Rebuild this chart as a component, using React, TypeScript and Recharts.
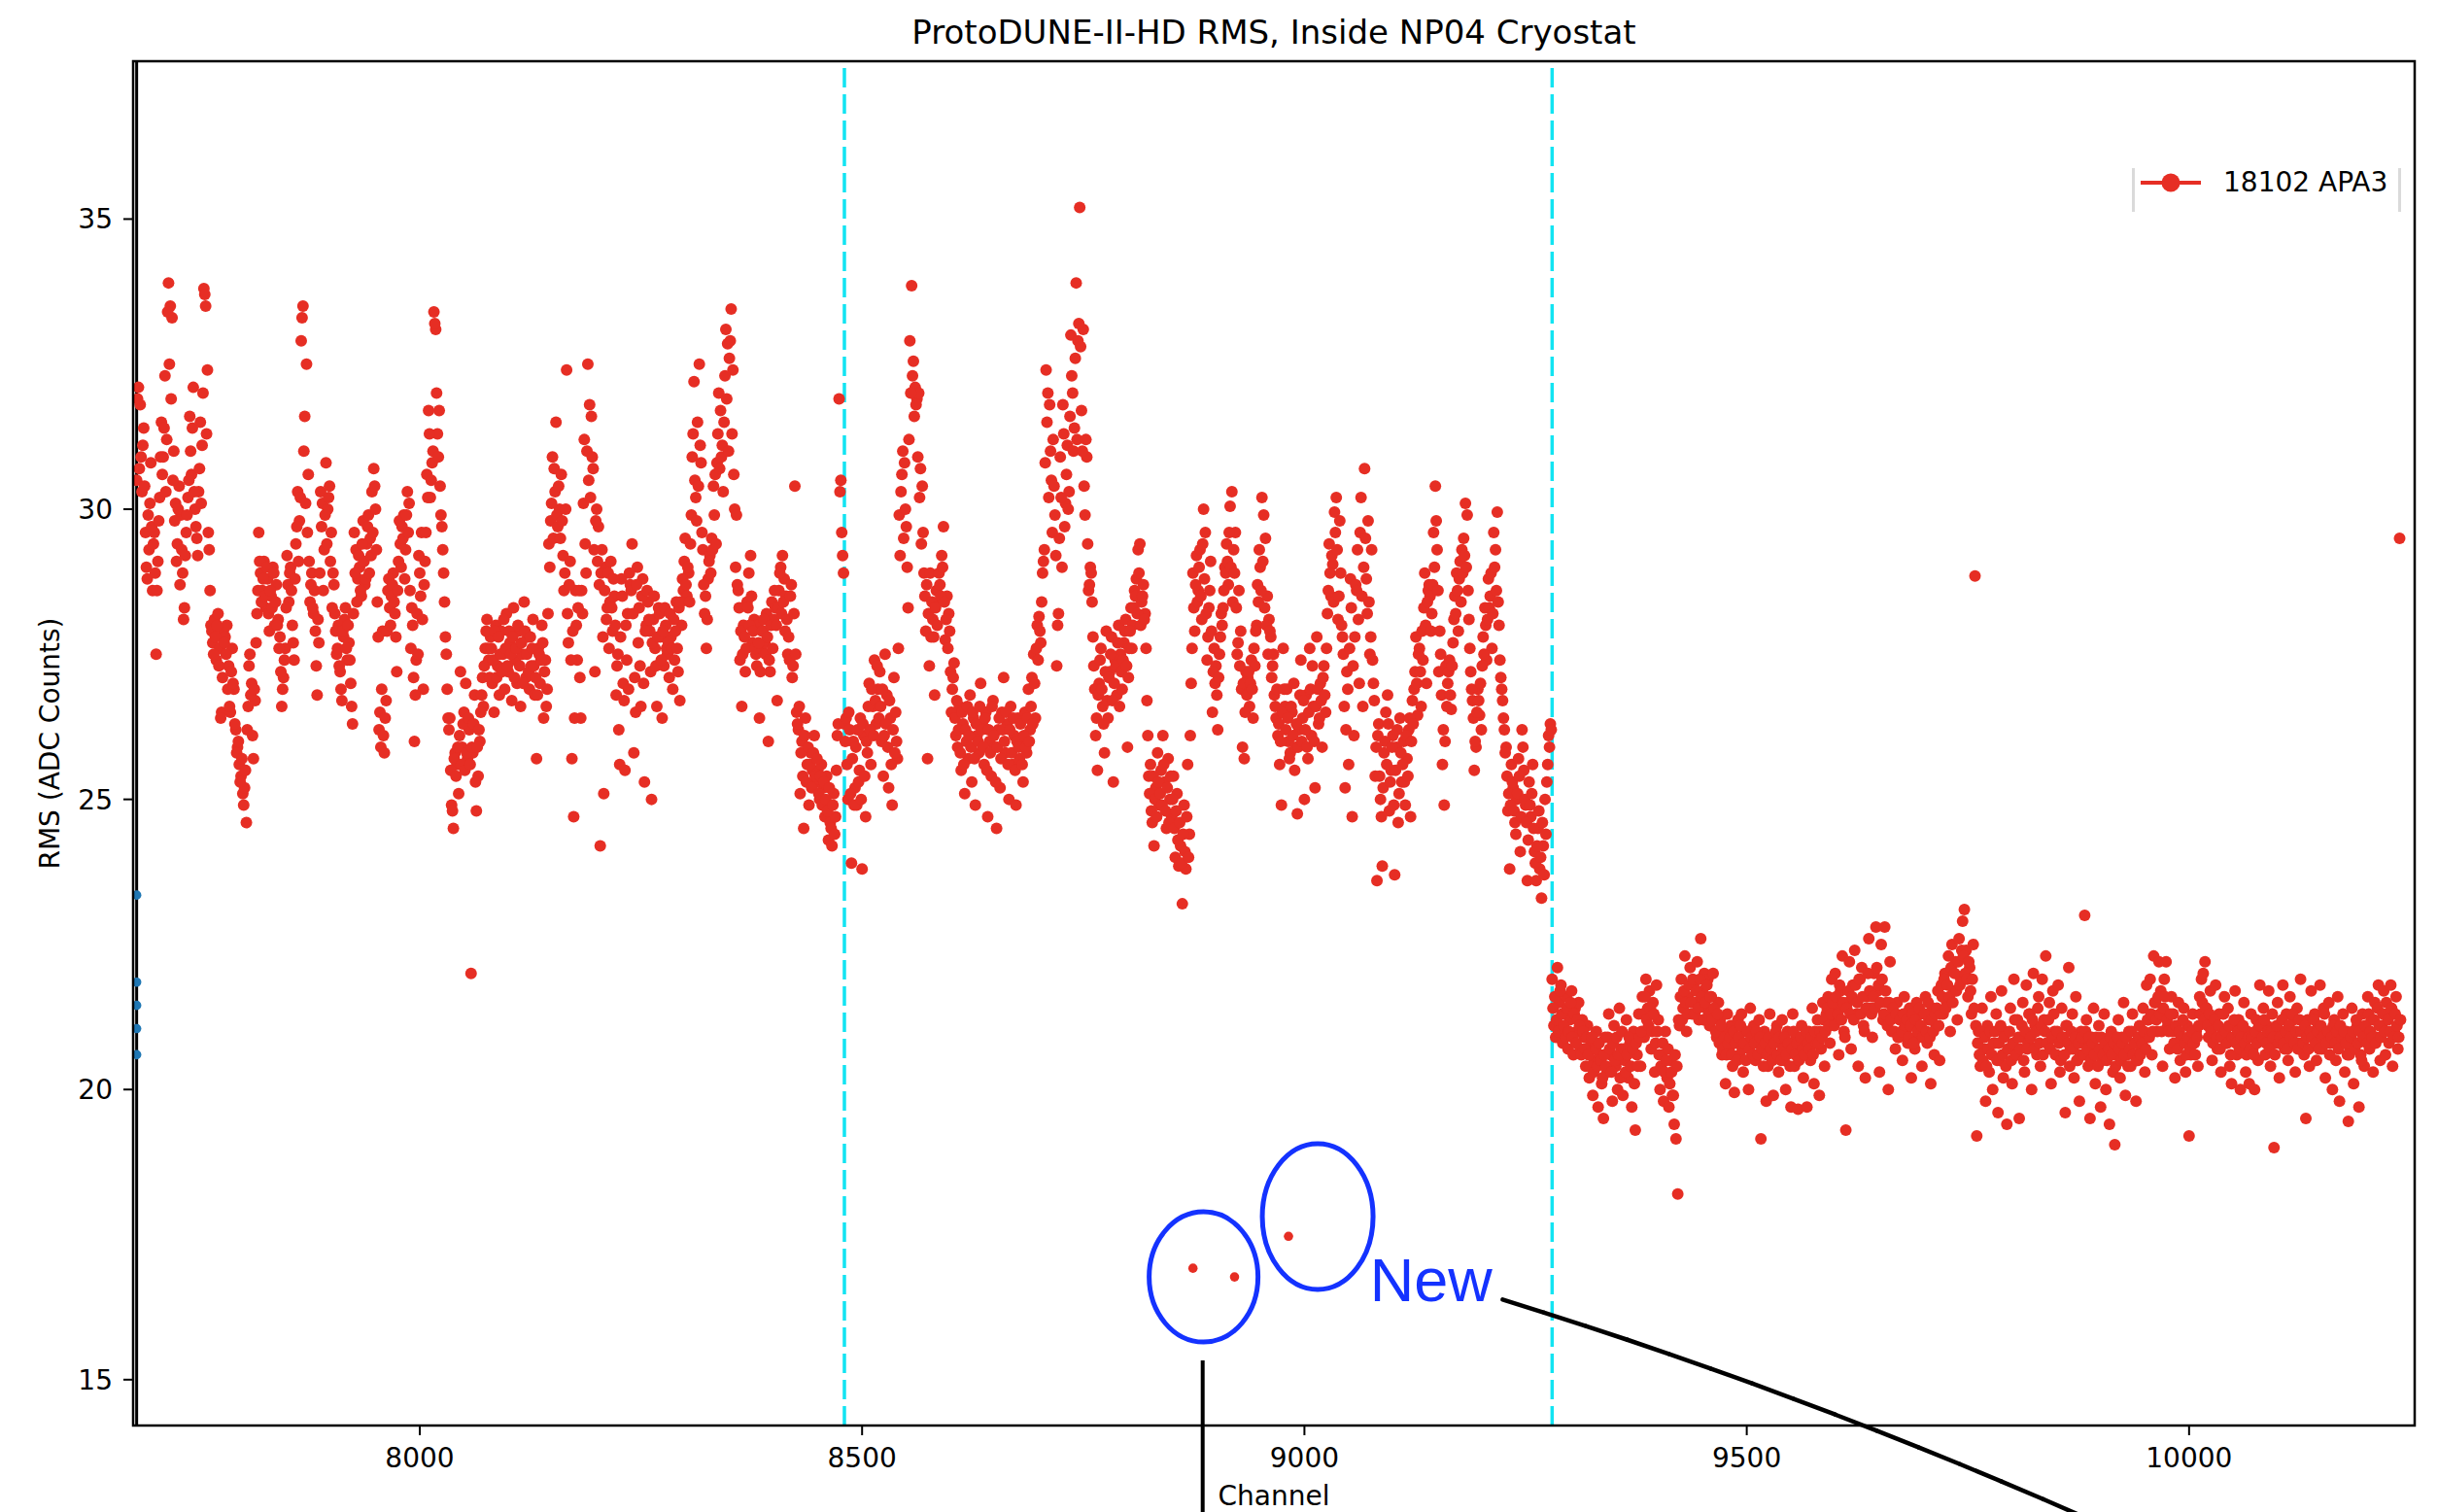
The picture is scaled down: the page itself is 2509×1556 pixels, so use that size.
import React from 'react';
import { ScatterChart, Scatter, XAxis, YAxis, ReferenceLine, ReferenceDot, Legend } from 'recharts';

// RMS per channel. Each row covers 100 channels; "even" rows hold the even
// channels (start, start+2, ...), "odd" rows the channels in between.
const U_START = 7680;
const V_START = 8480;
const X_START = 9280;

const uPlaneEven: number[][] = [
  [30.5, 32.1, 31.8, 30.3, 31.4, 29.6, 28.8, 29.3, 30.8, 28.6,
   29.6, 27.5, 29.1, 30.2, 31.5, 30.9, 32.3, 31.2, 33.9, 33.5,
   33.3, 31.0, 30.1, 29.4, 30.4, 29.9, 28.9, 28.3, 29.6, 30.2,
   31.6, 30.6, 32.1, 30.0, 29.5, 30.3, 31.5, 31.1, 33.8, 33.5,
   32.4, 29.3, 28.0, 27.7, 28.1, 27.4, 28.2, 27.6, 26.5, 27.9],
  [27.8, 28.0, 27.3, 26.5, 27.6, 26.9, 26.2, 25.9, 25.6, 25.4,
   25.1, 25.2, 24.6, 26.6, 27.5, 27.0, 25.7, 26.7, 28.2, 29.6,
   28.9, 28.6, 29.1, 28.3, 28.8, 27.9, 28.5, 29.0, 28.0, 28.7,
   28.1, 27.8, 26.6, 27.1, 27.6, 29.2, 28.4, 29.0, 28.0, 27.4,
   29.4, 30.3, 29.8, 32.9, 33.5, 31.6, 32.5, 30.6, 28.4, 28.9],
  [28.2, 27.9, 26.8, 27.7, 30.3, 30.1, 29.3, 30.8, 30.0, 30.4,
   29.6, 28.9, 28.2, 27.5, 28.0, 27.2, 26.7, 27.8, 28.3, 27.4,
   27.7, 27.0, 26.3, 29.6, 29.3, 28.8, 29.0, 28.5, 29.8, 28.7,
   29.4, 29.9, 29.5, 30.3, 30.7, 30.0, 28.4, 26.2, 25.9, 27.9,
   25.8, 26.7, 28.6, 28.3, 28.5, 28.9, 28.2, 27.2, 29.1, 29.4],
  [29.7, 29.9, 29.3, 30.3, 30.1, 27.6, 28.0, 26.0, 27.4, 27.5,
   28.9, 29.6, 26.9, 29.1, 30.6, 31.7, 30.2, 30.8, 33.4, 33.1,
   31.3, 31.7, 29.9, 29.3, 28.4, 27.5, 26.4, 26.4, 24.9, 24.5,
   25.8, 25.6, 25.1, 27.2, 25.9, 26.5, 27.0, 25.7, 26.2, 22.0,
   25.8, 26.8, 24.8, 25.4, 26.0, 26.8, 26.6, 27.6, 28.1, 27.4],
  [27.8, 27.0, 26.5, 28.0, 27.3, 26.8, 27.9, 27.5, 26.9, 28.2,
   27.2, 27.7, 26.7, 28.3, 27.4, 27.0, 27.9, 26.6, 27.5, 28.4,
   27.1, 27.8, 26.9, 27.3, 28.1, 26.8, 25.7, 27.6, 27.0, 28.0,
   26.4, 27.4, 26.9, 29.4, 29.8, 30.9, 30.7, 31.5, 29.7, 30.0,
   30.6, 29.2, 28.9, 32.4, 27.7, 29.1, 25.7, 24.7, 28.6, 27.4],
  [28.6, 26.4, 28.2, 31.2, 28.9, 32.5, 31.8, 31.6, 30.7, 27.2,
   30.0, 29.7, 24.2, 29.3, 25.1, 29.0, 28.3, 27.6, 29.1, 27.9,
   28.5, 26.8, 27.5, 25.6, 28.8, 27.0, 25.5, 27.4, 26.9, 28.7,
   29.4, 25.8, 26.5, 29.0, 28.3, 26.6, 28.8, 25.3, 28.0, 28.4,
   27.9, 25.0, 28.1, 27.6, 26.6, 28.3, 27.8, 26.4, 27.3, 28.0],
  [27.5, 27.1, 27.8, 26.9, 27.4, 28.4, 27.2, 26.7, 28.0, 28.6,
   29.5, 28.5, 28.9, 29.4, 30.9, 32.2, 30.2, 31.5, 32.5, 30.8,
   29.3, 28.2, 27.6, 28.8, 29.2, 29.5, 30.4, 30.6, 30.8, 32.0,
   31.7, 31.1, 31.5, 33.1, 32.85, 32.6, 33.45, 32.4, 30.0, 29.9,
   28.6, 27.4, 26.6, 28.0, 27.2, 28.4, 28.9, 29.2, 27.7, 28.1],
  [27.5, 28.0, 26.4, 27.6, 27.9, 27.7, 28.2, 26.0, 27.2, 28.4,
   28.1, 28.3, 26.7, 28.6, 29.0, 29.2, 28.8, 28.5, 27.5, 27.4,
   28.7, 27.3, 30.4, 26.5, 26.2, 25.1, 26.0, 24.5, 26.4, 25.6,
   24.9, 25.8, 25.5, 26.1, 25.3, 25.5, 25.0, 25.6, 25.2, 24.7,
   25.4, 24.3, 24.6, 24.2, 25.1, 24.7, 26.1, 31.9, 30.5, 29.2],
];

const uPlaneOdd: number[][] = [
  [31.9, 30.7, 30.9, 31.1, 30.4, 29.0, 29.9, 30.1, 29.7, 29.4,
   28.9, 28.6, 29.8, 30.9, 30.6, 31.4, 30.3, 33.4, 32.5, 31.9,
   30.5, 29.8, 29.1, 30.0, 28.7, 29.3, 28.1, 29.2, 29.9, 30.5,
   31.0, 31.4, 30.3, 29.7, 29.2, 30.7, 30.1, 32.0, 33.7, 31.3,
   29.6, 28.6, 27.9, 27.5, 27.8, 28.0, 27.3, 26.4, 27.1, 27.7],
  [27.5, 26.9, 26.6, 27.2, 27.0, 26.3, 25.8, 26.0, 25.3, 25.7,
   24.9, 25.5, 26.2, 27.3, 26.8, 26.1, 26.9, 27.7, 28.6, 29.1,
   28.4, 28.8, 28.5, 29.0, 28.2, 28.6, 28.3, 28.9, 28.4, 28.0,
   27.6, 27.2, 26.9, 27.4, 28.3, 28.7, 28.9, 28.6, 27.7, 28.8,
   29.7, 29.1, 30.2, 33.3, 31.0, 30.1, 29.6, 29.1, 28.7, 28.3],
  [28.6, 27.3, 28.1, 28.9, 29.7, 28.6, 29.9, 29.4, 30.2, 29.1,
   28.3, 28.7, 27.9, 27.6, 27.3, 26.9, 27.9, 28.1, 27.6, 28.0,
   27.4, 26.6, 28.2, 28.9, 28.4, 29.2, 28.6, 29.4, 29.1, 28.8,
   29.7, 28.9, 29.2, 29.6, 30.4, 29.3, 27.8, 26.5, 26.9, 26.1,
   26.4, 27.9, 28.8, 28.0, 28.7, 28.4, 27.8, 28.6, 29.8, 29.0],
  [29.5, 28.8, 29.9, 29.6, 28.6, 28.3, 27.1, 26.8, 28.2, 29.2,
   28.5, 28.1, 28.7, 29.6, 30.2, 31.3, 30.5, 31.0, 33.2, 32.0,
   30.9, 30.4, 29.7, 28.9, 27.8, 26.9, 26.2, 25.5, 24.8, 25.7,
   25.4, 25.9, 26.1, 25.6, 26.3, 25.5, 25.8, 26.4, 25.6, 25.9,
   26.3, 25.3, 25.9, 26.2, 26.5, 27.1, 27.3, 27.9, 27.6, 27.1],
  [27.6, 27.4, 27.9, 27.1, 27.8, 27.5, 27.2, 28.1, 27.6, 27.3,
   27.9, 27.5, 27.8, 27.1, 27.6, 28.0, 27.3, 27.7, 27.0, 27.9,
   27.5, 27.2, 27.8, 27.6, 27.3, 27.1, 26.8, 27.5, 27.4, 27.7,
   27.2, 26.6, 28.2, 29.0, 30.1, 29.5, 30.3, 29.9, 30.4, 29.5,
   29.8, 28.6, 30.0, 28.2, 28.7, 27.4, 27.9, 26.4, 28.0, 28.3],
  [27.1, 28.6, 30.1, 29.4, 31.0, 30.5, 30.2, 30.9, 29.3, 29.8,
   29.1, 28.7, 28.9, 27.8, 28.6, 28.1, 28.9, 28.4, 28.3, 28.8,
   28.0, 27.3, 26.2, 27.8, 28.5, 26.7, 28.0, 28.2, 28.9, 28.6,
   28.2, 27.1, 28.7, 27.7, 27.3, 28.5, 27.0, 27.9, 28.6, 28.1,
   27.2, 27.7, 28.5, 27.3, 27.8, 28.2, 27.4, 27.9, 28.3, 27.6],
  [27.7, 28.2, 27.6, 28.1, 27.9, 27.6, 28.3, 28.4, 28.8, 29.1,
   28.7, 29.0, 28.4, 29.9, 31.3, 30.5, 29.8, 30.4, 31.1, 29.6,
   28.7, 28.5, 28.1, 29.1, 28.9, 29.3, 29.9, 29.4, 31.3, 30.7,
   30.9, 30.3, 32.3, 31.9, 31.0, 32.9, 31.3, 30.6, 29.0, 28.7,
   28.3, 27.9, 27.5, 27.8, 27.6, 28.3, 28.0, 28.5, 27.9, 27.6],
  [27.3, 27.7, 27.2, 27.9, 28.1, 27.5, 27.8, 27.4, 28.0, 27.6,
   28.6, 28.0, 28.3, 28.9, 28.2, 28.4, 27.9, 28.1, 27.8, 28.5,
   27.1, 28.2, 27.5, 26.3, 26.6, 25.8, 25.4, 26.1, 25.3, 25.9,
   25.6, 25.2, 25.8, 25.4, 25.7, 25.1, 25.4, 24.9, 25.3, 25.0,
   24.8, 25.2, 24.5, 24.9, 24.4, 25.5, 26.3, 30.3, 29.6, 28.9],
];

const vPlaneEven: number[][] = [
  [26.3, 26.4, 25.0, 26.2, 23.9, 26.0, 25.2, 24.9, 25.3, 26.4,
   23.8, 26.1, 24.7, 25.8, 27.0, 25.6, 26.6, 27.4, 26.3, 26.9,
   27.2, 26.0, 25.4, 27.5, 26.8, 25.2, 26.4, 24.9, 27.1, 26.5,
   25.7, 29.9, 30.3, 31.0, 30.8, 29.7, 28.3, 32.9, 33.85, 32.55,
   32.1, 31.9, 32.0, 30.7, 30.4, 28.9, 27.9, 25.7, 27.3, 27.8],
  [28.1, 26.8, 28.6, 28.4, 28.7, 29.2, 29.7, 27.75, 28.5, 28.2,
   27.2, 26.9, 27.35, 26.1, 25.9, 26.6, 25.5, 26.3, 25.1, 26.0,
   25.7, 26.8, 25.3, 26.4, 24.9, 26.1, 25.8, 27.0, 26.3, 25.6,
   26.5, 24.7, 26.0, 25.4, 26.7, 25.9, 24.5, 26.2, 25.2, 26.5,
   27.1, 25.8, 26.3, 25.0, 26.6, 25.6, 26.1, 24.9, 26.4, 25.7],
  [26.0, 25.3, 26.5, 25.8, 26.9, 26.2, 27.1, 27.5, 26.4, 28.0,
   28.15, 27.7, 28.9, 29.3, 32.4, 32.0, 31.8, 30.5, 31.2, 29.9,
   27.3, 28.2, 30.9, 29.0, 31.3, 30.1, 31.1, 30.3, 33.0, 32.0,
   31.4, 33.9, 32.9, 35.2, 31.7, 33.1, 29.9, 30.9, 28.6, 29.0,
   28.4, 27.3, 26.1, 25.5, 27.0, 27.6, 26.6, 25.8, 27.9, 26.4],
  [27.2, 27.8, 25.3, 27.4, 26.8, 28.0, 27.5, 26.9, 27.7, 28.1,
   25.9, 27.6, 28.3, 28.0, 28.6, 28.8, 29.3, 29.4, 28.4, 28.7,
   28.2, 26.7, 25.4, 25.6, 24.6, 24.2, 25.2, 25.8, 24.9, 25.5,
   26.1, 25.3, 24.5, 25.7, 25.0, 24.7, 25.4, 24.0, 25.1, 23.85,
   24.2, 23.2, 24.9, 23.8, 25.6, 24.4, 27.0, 28.9, 27.9, 29.2],
  [28.6, 29.3, 28.1, 30.0, 29.6, 27.4, 28.3, 29.1, 26.5, 27.6,
   27.3, 26.2, 27.5, 28.2, 28.3, 29.0, 29.4, 28.7, 30.05, 30.3,
   29.3, 29.6, 27.5, 28.6, 27.9, 25.9, 25.7, 27.2, 27.1, 26.6,
   27.4, 26.4, 27.3, 28.0, 28.4, 29.0, 30.2, 29.9, 29.5, 28.5,
   28.1, 27.8, 27.3, 26.8, 26.4, 26.1, 25.6, 24.9, 27.6, 26.6],
  [26.9, 26.0, 25.8, 26.5, 27.0, 25.9, 24.75, 26.2, 27.4, 26.4,
   25.0, 26.8, 25.7, 27.6, 26.1, 26.6, 25.2, 27.8, 26.3, 27.0,
   25.9, 27.3, 26.5, 28.2, 29.4, 28.5, 29.05, 29.95, 30.2, 28.1,
   29.8, 28.0, 27.5, 25.2, 27.2, 25.6, 28.8, 24.7, 26.1, 28.7,
   29.3, 27.0, 30.2, 26.6, 30.7, 28.8, 29.8, 27.5, 29.3, 27.0],
  [25.4, 23.6, 26.3, 25.0, 23.85, 25.8, 26.5, 26.8, 24.8, 25.5,
   26.1, 23.7, 25.9, 24.6, 26.4, 25.3, 26.0, 24.9, 25.7, 26.2,
   24.7, 26.7, 26.9, 27.8, 26.45, 27.6, 26.6, 27.4, 28.9, 27.0,
   28.6, 28.5, 28.2, 29.6, 30.4, 29.3, 27.2, 27.5, 25.6, 24.9,
   27.3, 27.0, 27.4, 26.55, 27.7, 28.5, 28.9, 27.9, 29.1, 29.3],
  [29.5, 30.1, 29.9, 28.1, 27.2, 26.7, 25.5, 25.9, 26.9, 26.45,
   26.2, 27.8, 28.3, 27.4, 28.8, 28.5, 27.6, 29.6, 29.3, 29.95,
   28.0, 27.1, 26.7, 26.2, 25.9, 24.8, 23.8, 25.6, 25.2, 24.6,
   25.0, 25.7, 24.1, 26.2, 25.5, 24.9, 23.6, 25.3, 24.7, 25.6,
   24.1, 23.6, 24.5, 23.8, 23.3, 24.2, 25.0, 25.3, 26.1, 26.3],
];

const vPlaneOdd: number[][] = [
  [26.0, 25.6, 26.5, 25.1, 25.7, 24.9, 25.9, 26.2, 25.5, 25.0,
   26.3, 25.4, 26.0, 26.6, 26.2, 26.9, 26.1, 26.7, 27.3, 26.4,
   26.6, 26.9, 26.1, 26.3, 25.9, 26.7, 25.6, 26.2, 25.8, 26.0,
   27.6, 29.2, 30.6, 29.5, 30.0, 29.0, 31.2, 32.0, 32.3, 31.6,
   31.8, 30.9, 30.2, 29.4, 29.6, 28.5, 28.7, 28.2, 28.9, 28.4],
  [27.8, 28.3, 28.0, 28.9, 28.5, 29.0, 28.4, 28.1, 27.6, 27.9,
   26.5, 27.1, 26.4, 26.7, 26.2, 25.8, 26.5, 25.6, 26.2, 26.6,
   26.1, 25.9, 26.5, 25.7, 26.3, 26.0, 26.6, 26.2, 25.9, 26.4,
   25.5, 26.2, 25.8, 26.6, 26.1, 25.3, 25.9, 26.4, 25.7, 26.2,
   26.0, 26.5, 25.6, 26.2, 25.8, 26.4, 25.5, 26.0, 25.9, 26.3],
  [25.6, 26.1, 25.9, 26.4, 26.0, 26.6, 26.3, 27.0, 27.6, 27.4,
   27.9, 28.4, 29.1, 30.8, 31.5, 30.2, 31.0, 29.6, 30.4, 29.2,
   28.0, 29.5, 30.2, 31.8, 29.7, 30.6, 30.0, 31.6, 32.3, 31.0,
   32.6, 31.2, 33.2, 32.8, 31.0, 30.4, 31.2, 29.4, 28.7, 28.9,
   27.8, 26.9, 26.4, 26.8, 27.4, 26.9, 26.3, 27.2, 26.7, 27.1],
  [27.5, 26.7, 27.0, 27.3, 27.7, 26.6, 27.2, 27.4, 27.9, 27.3,
   27.1, 27.9, 27.6, 28.3, 28.5, 28.2, 28.9, 28.0, 28.5, 28.1,
   27.6, 26.1, 25.1, 24.8, 25.4, 25.0, 24.7, 25.3, 25.1, 24.9,
   25.6, 24.8, 25.2, 24.6, 25.4, 25.0, 24.5, 24.8, 24.3, 24.6,
   23.9, 24.4, 24.1, 24.7, 24.0, 26.1, 27.6, 28.3, 28.7, 28.4],
  [29.0, 28.5, 29.4, 28.8, 28.2, 27.8, 28.6, 27.9, 27.2, 27.0,
   26.8, 27.1, 27.8, 28.0, 28.6, 28.9, 29.1, 29.6, 29.0, 28.4,
   28.9, 28.3, 27.7, 27.3, 26.9, 27.0, 26.5, 26.8, 27.2, 27.0,
   26.9, 27.6, 27.9, 28.7, 29.3, 28.6, 29.1, 28.3, 28.0, 27.5,
   27.9, 27.1, 27.5, 26.6, 26.9, 26.3, 26.0, 26.5, 26.9, 26.2],
  [26.4, 25.7, 26.6, 26.1, 25.5, 26.3, 25.9, 26.8, 26.0, 26.7,
   26.2, 25.9, 26.5, 26.9, 27.3, 26.0, 26.6, 26.9, 26.4, 26.7,
   27.1, 26.8, 27.6, 28.6, 28.9, 29.2, 28.4, 29.6, 29.3, 28.5,
   28.9, 27.8, 26.6, 26.2, 26.9, 27.6, 28.3, 27.3, 27.8, 28.6,
   28.1, 29.6, 28.5, 29.0, 29.5, 28.2, 28.4, 27.8, 27.4, 26.7],
  [25.9, 26.1, 25.4, 24.7, 25.2, 26.0, 25.6, 26.3, 25.3, 25.9,
   24.9, 25.5, 26.2, 25.1, 25.8, 25.6, 25.3, 26.1, 25.4, 26.4,
   26.0, 26.3, 27.2, 27.0, 27.5, 27.2, 27.9, 28.3, 28.0, 28.4,
   28.7, 27.9, 28.7, 29.0, 29.8, 28.6, 27.9, 26.8, 26.2, 26.0,
   26.6, 27.2, 26.8, 27.3, 28.1, 28.2, 28.6, 28.8, 28.4, 28.9],
  [29.2, 29.0, 28.6, 27.6, 26.9, 26.4, 26.0, 26.5, 26.7, 27.0,
   27.3, 27.5, 28.0, 28.1, 28.3, 28.9, 28.2, 29.0, 28.6, 28.4,
   27.4, 26.9, 26.4, 25.8, 25.4, 25.1, 24.9, 25.3, 24.8, 24.4,
   25.1, 25.4, 24.7, 25.9, 25.0, 24.6, 24.3, 24.9, 25.1, 24.5,
   23.9, 24.2, 24.8, 24.0, 24.6, 23.7, 24.4, 25.6, 25.9, 26.2],
];

const xPlaneEven: number[][] = [
  [21.9, 21.1, 20.9, 22.1, 21.5, 21.8, 20.8, 21.3, 21.6, 20.7,
   21.2, 21.7, 20.6, 21.4, 21.0, 21.5, 20.7, 21.2, 20.9, 20.4,
   21.1, 20.2, 20.8, 19.9, 20.5, 21.0, 19.7, 20.6, 20.1, 19.5,
   20.9, 20.3, 21.3, 20.6, 19.8, 21.1, 20.4, 20.0, 21.4, 20.7,
   19.9, 20.5, 21.2, 20.2, 20.8, 19.7, 21.0, 19.3, 20.6, 21.3],
  [20.4, 21.6, 20.9, 21.9, 21.4, 21.7, 20.7, 21.5, 20.3, 21.8,
   21.2, 20.0, 20.6, 19.8, 21.0, 20.2, 19.7, 20.5, 19.9, 19.4,
   19.15, 18.2, 21.1, 21.9, 21.4, 22.3, 21.0, 21.6, 22.1, 21.3,
   21.8, 21.5, 22.2, 21.2, 22.6, 21.7, 22.0, 21.4, 21.9, 21.1,
   21.6, 22.0, 21.3, 20.9, 21.5, 21.2, 20.6, 21.0, 20.1, 21.3],
  [20.7, 21.1, 20.4, 19.95, 20.9, 21.2, 20.6, 21.3, 20.3, 21.0,
   20.8, 20.0, 21.4, 20.6, 21.1, 20.5, 20.9, 21.2, 19.15, 20.7,
   21.0, 19.8, 20.4, 21.3, 20.6, 19.9, 20.9, 21.1, 20.3, 20.8,
   21.2, 20.5, 20.0, 21.0, 20.7, 19.7, 21.3, 20.4, 20.9, 19.66,
   20.6, 21.1, 20.2, 20.8, 19.7, 21.0, 20.5, 21.4, 20.1, 20.9],
  [21.2, 19.9, 20.7, 21.5, 20.4, 21.3, 21.6, 20.8, 21.9, 21.2,
   22.0, 21.4, 20.6, 21.7, 22.3, 21.0, 19.3, 21.5, 22.2, 20.7,
   21.8, 22.4, 21.3, 20.4, 21.9, 22.1, 21.1, 20.2, 21.6, 22.6,
   21.4, 20.9, 22.0, 22.8, 21.7, 20.3, 22.5, 21.2, 22.8, 21.5,
   20.0, 22.2, 21.0, 21.3, 20.7, 21.5, 20.9, 21.2, 20.5, 21.6],
  [21.0, 20.8, 21.4, 20.2, 21.1, 20.7, 21.5, 20.9, 21.3, 20.4,
   21.0, 21.6, 20.8, 21.2, 20.1, 21.4, 20.6, 21.1, 21.7, 20.5,
   21.8, 21.3, 22.0, 21.5, 22.3, 21.0, 22.5, 21.7, 22.2, 21.2,
   22.6, 21.9, 22.9, 23.1, 22.4, 21.6, 22.1, 21.3, 22.5, 28.85,
   19.2, 21.0, 20.4, 21.4, 20.7, 19.8, 21.1, 20.3, 21.6, 20.0],
  [20.8, 21.3, 19.6, 20.5, 21.7, 20.2, 21.0, 19.4, 20.7, 21.4,
   20.1, 21.9, 20.6, 21.2, 19.5, 20.9, 21.5, 20.3, 21.8, 20.8,
   21.3, 20.0, 22.0, 21.1, 20.6, 21.6, 20.4, 21.9, 21.2, 22.3,
   20.8, 21.5, 20.1, 21.7, 21.0, 20.6, 21.8, 20.3, 21.4, 20.9,
   19.6, 21.1, 22.1, 20.7, 21.3, 20.2, 21.6, 20.5, 19.8, 21.0],
  [20.8, 23.0, 21.2, 20.4, 19.5, 20.9, 21.4, 20.1, 20.7, 21.1,
   19.7, 20.5, 21.3, 20.0, 20.8, 19.4, 21.0, 20.3, 19.05, 20.6,
   21.2, 20.2, 20.9, 21.5, 19.9, 20.6, 21.0, 20.4, 21.3, 20.8,
   19.8, 20.5, 21.1, 20.7, 21.4, 20.3, 21.8, 21.2, 21.9, 20.6,
   22.3, 21.5, 21.0, 22.2, 21.7, 20.4, 21.9, 22.2, 21.1, 20.7],
  [21.6, 21.3, 20.2, 21.0, 21.5, 20.5, 20.9, 21.4, 20.3, 21.1,
   19.2, 20.6, 21.3, 20.8, 21.0, 20.4, 21.6, 21.9, 22.0, 22.2,
   21.4, 20.9, 21.7, 20.5, 21.2, 21.8, 20.7, 21.3, 20.3, 21.0,
   21.6, 20.8, 21.4, 20.4, 20.1, 21.1, 21.7, 20.6, 21.2, 20.0,
   20.9, 21.5, 20.3, 21.0, 20.1, 21.3, 20.7, 20.0, 21.2, 20.5],
  [21.8, 20.9, 21.4, 20.6, 21.1, 21.7, 20.4, 21.3, 19.0, 20.8,
   21.5, 20.2, 21.0, 21.8, 20.7, 21.3, 20.5, 21.6, 20.9, 21.2,
   20.3, 21.4, 20.8, 21.9, 21.0, 20.6, 19.5, 21.2, 20.4, 21.7,
   20.9, 21.3, 20.5, 21.1, 21.8, 20.7, 21.4, 20.2, 21.0, 21.5,
   20.8, 20.0, 21.2, 20.5, 21.6, 19.8, 20.9, 21.3, 20.3, 21.0],
  [19.45, 20.7, 21.4, 20.1, 20.8, 21.1, 19.7, 20.6, 21.3, 20.4,
   21.0, 21.6, 20.7, 21.2, 20.3, 21.5, 20.9, 21.8, 20.5, 21.1,
   21.7, 20.6, 21.3, 20.8, 21.8, 20.4, 21.0, 21.6, 20.7, 29.5],
];

const xPlaneOdd: number[][] = [
  [21.4, 21.6, 21.2, 21.0, 21.7, 21.3, 21.1, 20.9, 21.4, 21.0,
   21.5, 20.9, 21.3, 20.8, 21.2, 21.1, 20.6, 21.0, 20.7, 20.9,
   20.6, 20.4, 20.9, 20.3, 20.7, 20.4, 20.8, 20.5, 20.2, 20.6,
   20.4, 20.9, 20.7, 20.3, 20.8, 20.5, 20.9, 20.6, 20.2, 21.0,
   20.7, 20.3, 20.6, 20.9, 20.4, 20.7, 20.1, 20.8, 20.4, 20.9],
  [21.0, 21.3, 21.6, 21.2, 21.1, 21.4, 21.0, 21.3, 20.8, 21.0,
   20.6, 20.4, 20.8, 20.3, 20.5, 20.7, 20.1, 20.3, 19.9, 20.6,
   20.4, 21.2, 21.6, 21.2, 21.7, 21.5, 21.3, 21.8, 21.5, 21.9,
   21.3, 21.7, 21.4, 21.9, 21.6, 21.2, 21.5, 21.8, 21.3, 21.6,
   21.2, 21.4, 21.0, 21.3, 20.8, 21.1, 20.7, 20.9, 20.6, 20.8],
  [20.9, 20.6, 21.0, 20.8, 20.5, 20.9, 21.1, 20.7, 20.8, 20.5,
   21.0, 20.7, 20.9, 20.6, 20.8, 21.0, 20.6, 20.9, 20.7, 20.4,
   20.8, 20.6, 20.9, 20.7, 20.5, 20.8, 21.0, 20.6, 20.9, 20.5,
   20.7, 20.9, 20.6, 20.8, 20.4, 20.7, 21.0, 20.6, 20.8, 20.5,
   20.9, 20.7, 20.6, 21.0, 20.8, 20.7, 20.9, 20.6, 21.0, 20.8],
  [20.8, 21.0, 20.9, 21.2, 21.0, 21.4, 21.1, 21.3, 21.5, 21.1,
   21.6, 21.3, 21.8, 21.2, 21.5, 20.9, 21.4, 21.7, 21.3, 21.6,
   21.2, 21.8, 21.5, 21.9, 21.3, 21.6, 21.0, 21.4, 22.0, 21.7,
   21.3, 21.6, 21.4, 22.1, 21.8, 21.5, 21.9, 21.3, 21.7, 21.1,
   21.5, 21.2, 21.4, 21.0, 21.3, 20.9, 21.2, 21.0, 21.3, 21.1],
  [21.2, 20.9, 21.1, 21.3, 20.8, 21.2, 21.0, 21.4, 21.1, 20.9,
   21.3, 21.0, 21.5, 20.9, 21.2, 21.0, 21.3, 21.4, 21.1, 21.3,
   21.6, 21.9, 21.4, 21.8, 21.6, 22.1, 21.5, 22.0, 21.7, 22.2,
   21.8, 22.4, 22.3, 22.0, 21.9, 22.2, 21.7, 21.9, 21.4, 21.1,
   20.8, 20.6, 21.0, 20.5, 20.9, 20.4, 20.7, 21.0, 20.6, 20.8],
  [21.0, 20.5, 20.8, 21.1, 20.6, 20.9, 20.4, 20.7, 21.0, 20.5,
   20.8, 21.2, 20.6, 20.9, 20.7, 21.1, 20.5, 21.0, 20.7, 21.3,
   20.9, 21.2, 20.7, 21.0, 21.4, 20.8, 21.1, 20.6, 21.0, 20.8,
   21.2, 20.7, 20.9, 21.3, 20.6, 21.0, 20.8, 20.5, 20.9, 20.6,
   21.1, 20.8, 20.4, 21.0, 20.7, 20.9, 20.5, 20.8, 20.6, 20.9],
  [20.6, 21.0, 20.7, 20.9, 20.5, 20.8, 20.6, 20.9, 20.4, 20.7,
   20.9, 20.6, 20.8, 20.5, 20.7, 20.9, 20.6, 20.8, 20.4, 20.9,
   20.7, 20.5, 20.8, 20.6, 20.9, 20.4, 20.7, 21.0, 20.6, 20.8,
   20.5, 20.9, 20.6, 20.8, 21.0, 20.7, 21.2, 20.9, 21.3, 21.0,
   21.5, 21.2, 21.6, 21.3, 21.0, 21.4, 21.6, 21.2, 21.0, 21.3],
  [21.0, 20.8, 21.1, 20.7, 21.0, 20.9, 21.2, 20.8, 20.6, 20.9,
   20.7, 21.0, 20.8, 20.6, 20.9, 21.1, 21.3, 21.5, 21.2, 21.4,
   21.1, 21.3, 21.0, 20.8, 21.2, 20.9, 21.1, 20.7, 20.9, 21.3,
   21.0, 20.8, 21.1, 20.6, 20.9, 21.2, 20.8, 21.0, 20.7, 20.9,
   21.1, 20.8, 20.6, 20.9, 20.7, 20.9, 20.6, 21.0, 20.8, 21.1],
  [21.1, 20.9, 21.2, 20.8, 21.0, 20.7, 21.0, 20.9, 20.6, 21.1,
   20.8, 20.9, 21.2, 20.8, 21.0, 20.7, 21.1, 20.9, 21.3, 20.8,
   21.0, 20.7, 21.2, 21.0, 20.8, 21.1, 20.9, 20.7, 21.0, 20.9,
   21.2, 20.8, 21.0, 20.7, 21.1, 20.9, 21.3, 20.8, 21.0, 20.6,
   20.9, 21.1, 20.8, 21.0, 20.7, 21.1, 20.9, 21.0, 20.8, 20.6],
  [20.6, 20.9, 21.0, 20.7, 21.2, 20.8, 21.0, 20.5, 20.9, 21.1,
   20.8, 21.3, 21.0, 20.9, 21.2, 20.8, 21.4, 21.1, 20.9, 21.3,
   21.0, 21.5, 21.2, 21.0, 21.4, 20.9, 21.3, 21.1, 20.9, 21.2],
];

// the three newly found low channels (circled)
const newChannels = [8874, 8921, 8982];
const newRms = [16.92, 16.77, 17.47];

// second run, only visible on the left edge
const otherChannel = 7680;
const otherRms = [23.35, 21.85, 21.45, 21.05, 20.6];

const xTicks = [8000, 8500, 9000, 9500, 10000];
const yTicks = [15, 20, 25, 30, 35];
const planeEdges = [8480, 9280];

const W = 2509;
const H = 1556;
const RED = '#e62e24';
const BLUE = '#1f77b4';
const CYAN = '#12e4f2';
const INK = '#1432ff';
const FONT = 'DejaVu Sans';

const expand = (start: number, rows: number[][], offset: number) =>
  rows.flatMap((row, r) => row.map((v, i) => ({ x: start + r * 100 + i * 2 + offset, y: v })));

const apaPoints = [
  ...expand(U_START, uPlaneEven, 0),
  ...expand(U_START, uPlaneOdd, 1),
  ...expand(V_START, vPlaneEven, 0),
  ...expand(V_START, vPlaneOdd, 1),
  ...expand(X_START, xPlaneEven, 0),
  ...expand(X_START, xPlaneOdd, 1),
];
const newPoints = newChannels.map((c, i) => ({ x: c, y: newRms[i] }));
const otherPoints = otherRms.map((v) => ({ x: otherChannel, y: v }));

const dot = (r: number, color: string) => (p: any) => (
  <circle cx={p.cx} cy={p.cy} r={r} fill={color} />
);

const ellipse = (rx: number, ry: number) => (p: any) => (
  <ellipse cx={p.cx} cy={p.cy} rx={rx} ry={ry} fill="none" stroke={INK} strokeWidth={5} />
);

// hand drawn pointer from "New" bending down to the right (annotation, not data)
const pointer = Array.from({ length: 15 }, (_, i) => {
  const c = 9224 + i * 47;
  const d = c - 9224;
  return { x: c, y: 16.38 - 0.004694 * d - 0.00000153 * d * d };
});

const LegendBox = () => (
  <div
    style={{
      position: 'relative',
      width: 277,
      height: 45,
      boxSizing: 'border-box',
      borderLeft: '3px solid #dadada',
      borderRight: '3px solid #dadada',
      fontFamily: FONT,
      fontSize: 28,
      color: '#000',
    }}
  >
    <svg width={64} height={24} style={{ position: 'absolute', left: 6, top: 3 }}>
      <line x1={0} y1={12} x2={62} y2={12} stroke={RED} strokeWidth={4} />
      <circle cx={31} cy={12} r={9.5} fill={RED} />
    </svg>
    <span style={{ position: 'absolute', left: 91, top: 0, lineHeight: '30px', whiteSpace: 'nowrap' }}>
      18102 APA3
    </span>
  </div>
);

export default function App() {
  return (
    <div style={{ position: 'absolute', left: 0, top: 0, width: W, height: H, background: '#fff' }}>
      <ScatterChart width={W} height={H} margin={{ top: 63, right: 24, bottom: 29, left: 57 }}>
        <XAxis
          type="number"
          dataKey="x"
          domain={[7676, 10255]}
          ticks={xTicks}
          allowDataOverflow
          height={60}
          tickSize={10}
          tickMargin={13}
          axisLine={false}
          tickLine={{ stroke: '#000', strokeWidth: 2 }}
          tick={{ fill: '#000', fontSize: 28, fontFamily: FONT }}
        />
        <YAxis
          type="number"
          dataKey="y"
          domain={[14.21, 37.72]}
          ticks={yTicks}
          allowDataOverflow
          width={80}
          tickSize={10}
          tickMargin={11}
          axisLine={false}
          tickLine={{ stroke: '#000', strokeWidth: 2 }}
          tick={{ fill: '#000', fontSize: 28, fontFamily: FONT }}
        />
        <Scatter data={otherPoints} shape={dot(4.8, BLUE)} legendType="none" isAnimationActive={false} />
        <Scatter name="18102 APA3" data={apaPoints} fill={RED} shape={dot(6, RED)} isAnimationActive={false} />
        <Scatter data={newPoints} shape={dot(4.8, RED)} legendType="none" isAnimationActive={false} />
        <ReferenceLine x={7680} stroke="#000" strokeWidth={3} />
        {planeEdges.map((e) => (
          <ReferenceLine key={e} x={e} stroke={CYAN} strokeWidth={3.5} strokeDasharray="20 7" />
        ))}
        <ReferenceDot x={8886} y={16.77} ifOverflow="visible" shape={ellipse(56, 67)} />
        <ReferenceDot x={9015} y={17.81} ifOverflow="visible" shape={ellipse(57, 75)} />
        <ReferenceDot
          x={9074}
          y={16.36}
          ifOverflow="visible"
          shape={(p: any) => (
            <text x={p.cx} y={p.cy} fill={INK} fontSize={63} fontFamily="Liberation Sans, Arial, sans-serif">
              New
            </text>
          )}
        />
        <ReferenceLine
          segment={[{ x: 8885, y: 15.33 }, { x: 8885, y: 12.4 }]}
          ifOverflow="visible"
          stroke="#000"
          strokeWidth={4}
        />
        {pointer.slice(1).map((pt, i) => (
          <ReferenceLine
            key={i}
            segment={[pointer[i], pt]}
            ifOverflow="visible"
            stroke="#000"
            strokeWidth={4.5}
            strokeLinecap="round"
          />
        ))}
        <Legend
          layout="horizontal"
          verticalAlign="middle"
          align="center"
          wrapperStyle={{ position: 'absolute', left: 2194, top: 173, width: 277, height: 45 }}
          content={() => <LegendBox />}
        />
      </ScatterChart>
      <svg
        width={W}
        height={H}
        style={{ position: 'absolute', left: 0, top: 0, pointerEvents: 'none' }}
        fontFamily={FONT}
      >
        <rect x={137} y={63} width={2348} height={1404} fill="none" stroke="#000" strokeWidth={2.5} />
        <text x={1311} y={45} textAnchor="middle" fontSize={34} fill="#000">
          ProtoDUNE-II-HD RMS, Inside NP04 Cryostat
        </text>
        <text x={1311} y={1549} textAnchor="middle" fontSize={28} fill="#000">
          Channel
        </text>
        <text transform="translate(61,765) rotate(-90)" textAnchor="middle" fontSize={28} fill="#000">
          RMS (ADC Counts)
        </text>
      </svg>
    </div>
  );
}
